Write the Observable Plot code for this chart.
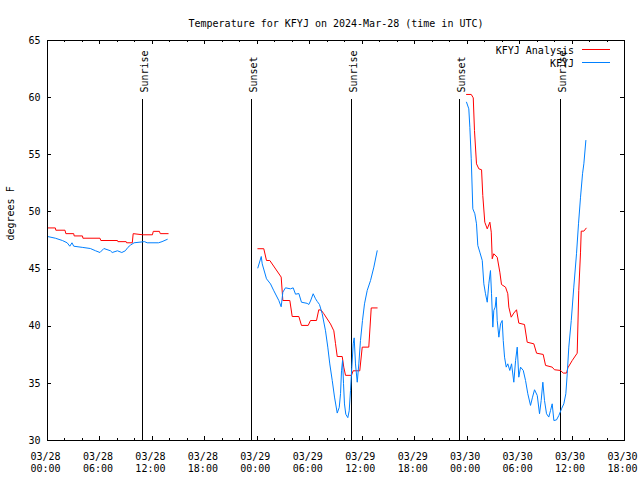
<!DOCTYPE html>
<html>
<head>
<meta charset="utf-8">
<script src="https://cdn.jsdelivr.net/npm/d3@7"></script>
<script src="https://cdn.jsdelivr.net/npm/@observablehq/plot@0.6"></script>
<style>
  html, body { margin: 0; padding: 0; background: #fff; }
  svg { display: block; }
</style>
</head>
<body>
<div id="chart"></div>
<script>
// Hours since 2024-03-28 00:00 UTC, temperature (°F)
const analysis1 = [[0,48.6],[0.9,48.6],[0.95,48.4],[2.0,48.4],[2.1,48.1],[3.0,48.1],[3.05,47.9],[4.0,47.9],[4.05,47.7],[6.0,47.7],[6.1,47.5],[8.0,47.5],[8.05,47.4],[9.0,47.4],[9.05,47.3],[9.7,47.3],[9.8,48.1],[10.9,48.0],[12.0,48.0],[12.1,48.3],[12.8,48.3],[12.9,48.1],[13.8,48.1]];
const analysis2 = [[24.06,46.78],[24.74,46.78],[25.05,45.75],[25.43,45.75],[26.73,44.3],[26.92,42.25],[27.72,42.25],[27.99,40.85],[28.75,40.85],[29.05,40.07],[29.82,40.07],[30.08,40.5],[30.77,40.5],[31.03,41.44],[31.31,41.4],[31.6,41.1],[32.37,40.2],[32.75,39.6],[32.94,38.5],[33.14,37.35],[33.71,37.35],[33.89,36.42],[34.09,35.7],[34.77,35.7],[34.96,36.1],[35.72,36.1],[36.0,38.17],[36.75,38.17],[37.03,41.6],[37.71,41.6]];
const analysis3 = [[47.93,60.28],[48.47,60.28],[48.7,59.98],[48.84,57.13],[49.07,54.21],[49.34,53.77],[49.65,53.69],[49.79,51.44],[50.02,49.1],[50.3,48.52],[50.6,49.1],[50.76,48.23],[50.87,45.9],[51.05,46.34],[51.44,46.04],[51.74,44.73],[51.93,43.65],[52.39,43.42],[52.65,42.84],[52.77,41.67],[53.04,40.79],[53.34,41.15],[53.65,41.44],[53.91,40.27],[54.56,40.15],[54.87,38.6],[55.63,38.46],[55.94,37.64],[56.7,37.53],[56.97,36.57],[57.73,36.42],[57.99,36.19],[58.68,36.13],[58.99,35.9],[59.37,35.9],[59.52,36.36],[60.02,37.0],[60.59,37.64],[60.77,43.13],[60.97,46.48],[61.05,48.32],[61.35,48.32],[61.62,48.58]];

const obs1 = [[0,47.85],[0.9,47.7],[1.7,47.5],[2.25,47.3],[2.55,47.0],[2.8,47.3],[3.0,47.0],[3.97,46.9],[4.9,46.8],[5.5,46.6],[6.0,46.45],[6.45,46.8],[7.2,46.6],[7.4,46.45],[8.0,46.6],[8.5,46.45],[8.9,46.6],[9.2,46.9],[9.5,47.1],[9.9,47.3],[11.1,47.4],[11.4,47.3],[12.7,47.3],[13.1,47.4],[13.7,47.6]];
const obs2 = [[24.06,45.1],[24.45,46.1],[24.56,45.46],[25.05,44.15],[25.51,43.7],[25.89,43.1],[26.46,42.25],[26.73,41.7],[26.92,42.98],[27.22,43.36],[27.8,43.27],[28.1,43.36],[28.37,42.8],[28.75,42.86],[29.05,42.1],[29.7,42.0],[29.89,41.9],[30.08,42.2],[30.39,42.84],[30.66,42.4],[30.85,42.17],[31.11,41.9],[31.42,41.1],[31.8,39.6],[32.06,38.17],[32.29,36.7],[32.57,35.25],[32.83,33.8],[33.14,32.4],[33.37,32.9],[33.52,34.1],[33.63,36.1],[33.75,37.0],[33.86,34.97],[33.97,33.2],[34.12,32.3],[34.35,32.0],[34.51,32.6],[34.66,34.38],[34.81,36.4],[34.97,38.46],[35.08,38.98],[35.23,36.7],[35.43,35.1],[35.61,36.7],[35.8,38.75],[36.03,40.5],[36.26,41.96],[36.57,43.13],[36.95,44.0],[37.33,45.17],[37.71,46.6]];
const obs3 = [[47.93,59.6],[48.19,59.02],[48.31,57.41],[48.47,54.65],[48.65,50.27],[48.88,49.84],[49.07,48.96],[49.22,47.07],[49.45,46.48],[49.73,45.75],[49.91,43.71],[50.1,42.84],[50.3,42.1],[50.48,43.71],[50.67,44.87],[50.79,42.84],[50.94,39.92],[51.05,41.38],[51.21,41.67],[51.33,42.55],[51.44,40.5],[51.63,39.04],[51.82,40.21],[52.01,40.5],[52.13,38.75],[52.28,37.29],[52.47,36.42],[52.65,36.71],[52.88,36.13],[53.08,36.71],[53.34,35.1],[53.54,37.0],[53.73,38.17],[53.91,35.54],[54.11,36.42],[54.42,36.13],[54.68,35.25],[54.94,34.09],[55.25,33.07],[55.48,33.79],[55.71,34.44],[56.02,33.94],[56.28,32.34],[56.47,33.5],[56.66,35.1],[56.85,33.5],[57.08,32.34],[57.34,32.05],[57.54,32.63],[57.73,33.21],[57.92,31.75],[58.22,31.8],[58.49,32.19],[58.8,32.78],[59.06,33.21],[59.29,34.09],[59.45,35.84],[59.63,38.17],[59.91,40.5],[60.2,43.42],[60.51,46.34],[60.74,48.96],[60.97,51.29],[61.2,53.34],[61.35,54.21],[61.58,56.25]];

// Sun events (hours since 2024-03-28 00:00 UTC)
const sunHours = [10.9, 23.33, 34.77, 47.16, 58.68];
const sunLabels = ["Sunrise", "Sunset", "Sunrise", "Sunset", "Sunrise"];

const yTicks = [30, 35, 40, 45, 50, 55, 60, 65];
const seriesNames = ["KFYJ Analysis", "KFYJ"];
const seriesColors = ["#ff0000", "#0080ff"];
const titleText = "Temperature for KFYJ on 2024-Mar-28 (time in UTC)";
const yLabel = "degrees F";

const t0 = Date.UTC(2024, 2, 28);
const toDate = h => new Date(t0 + h * 3600000);
const toRows = (segs, series) => segs.flatMap((seg, si) =>
  seg.map(([h, v]) => ({time: toDate(h), temp: v, series, seg: series + si})));

const analysisRows = toRows([analysis1, analysis2, analysis3], seriesNames[0]);
const obsRows = toRows([obs1, obs2, obs3], seriesNames[1]);
const sunEvents = sunHours.map((h, i) => ({time: toDate(h), label: sunLabels[i]}));

const xDomain = [toDate(0), toDate(66)];
const majorTicks = d3.utcHour.every(6).range(xDomain[0], new Date(+xDomain[1] + 1));
const minorTicks = d3.utcHour.every(2).range(xDomain[0], new Date(+xDomain[1] + 1));
const fmt = d3.utcFormat("%m/%d\n%H:%M");

const FONT = "DejaVu Sans Mono";

const legend = (index, scales, values, dim) => {
  const g = d3.create("svg:g")
    .attr("font-family", FONT).attr("font-size", 10);
  const right = dim.width - dim.marginRight;
  seriesNames.forEach((name, i) => {
    const y = dim.marginTop + 10 + i * 13;
    g.append("text").attr("x", right - 50).attr("y", y).attr("dy", "0.35em")
      .attr("text-anchor", "end").attr("fill", "black").text(name);
    g.append("line").attr("x1", right - 42).attr("x2", right - 14)
      .attr("y1", y - 0.5).attr("y2", y - 0.5)
      .attr("stroke", seriesColors[i]).attr("stroke-width", 1)
      .attr("shape-rendering", "crispEdges");
  });
  return g.node();
};

const chart = Plot.plot({
  width: 640,
  height: 480,
  marginLeft: 47,
  marginRight: 16,
  marginTop: 40,
  marginBottom: 40,
  style: {fontFamily: FONT, fontSize: "10px", background: "white"},
  x: {type: "utc", domain: xDomain, axis: null},
  y: {domain: [30, 65], axis: null},
  marks: [
    // tick marks (inward), bottom/top
    Plot.ruleX(minorTicks, {x: d => d, insetTop: 398, stroke: "black", shapeRendering: "crispEdges"}),
    Plot.ruleX(minorTicks, {x: d => d, insetBottom: 398, stroke: "black", shapeRendering: "crispEdges"}),
    Plot.ruleX(majorTicks, {x: d => d, insetTop: 396, stroke: "black", shapeRendering: "crispEdges"}),
    Plot.ruleX(majorTicks, {x: d => d, insetBottom: 396, stroke: "black", shapeRendering: "crispEdges"}),
    // y ticks, left/right
    Plot.ruleY(yTicks, {y: d => d, insetRight: 573, stroke: "black", shapeRendering: "crispEdges"}),
    Plot.ruleY(yTicks, {y: d => d, insetLeft: 573, stroke: "black", shapeRendering: "crispEdges"}),
    // tick labels
    Plot.text(majorTicks, {x: d => d, text: d => fmt(d), frameAnchor: "bottom", lineAnchor: "top", dy: 11, dx: -2, lineHeight: 1.2, fill: "black"}),
    Plot.text(yTicks, {y: d => d, text: d => String(d), frameAnchor: "left", textAnchor: "end", dx: -7, fill: "black"}),
    // y label
    Plot.text([yLabel], {text: d => d, frameAnchor: "left", dx: -37, rotate: -90, fill: "black"}),
    // title
    Plot.text([titleText], {text: d => d, frameAnchor: "top", dy: -21, fill: "black"}),
    // sun events
    Plot.ruleX(sunEvents, {x: "time", insetTop: 59, stroke: "black", shapeRendering: "crispEdges"}),
    Plot.text(sunEvents, {x: "time", text: "label", frameAnchor: "top", dy: 52, dx: -2, rotate: -90, textAnchor: "start", fill: "black"}),
    // data
    Plot.line(analysisRows, {x: "time", y: "temp", z: "seg", stroke: seriesColors[0], strokeWidth: 1, curve: "linear"}),
    Plot.line(obsRows, {x: "time", y: "temp", z: "seg", stroke: seriesColors[1], strokeWidth: 1, curve: "linear"}),
    Plot.frame({stroke: "black", shapeRendering: "crispEdges"}),
    legend
  ]
});
document.getElementById("chart").appendChild(chart);
</script>
</body>
</html>
